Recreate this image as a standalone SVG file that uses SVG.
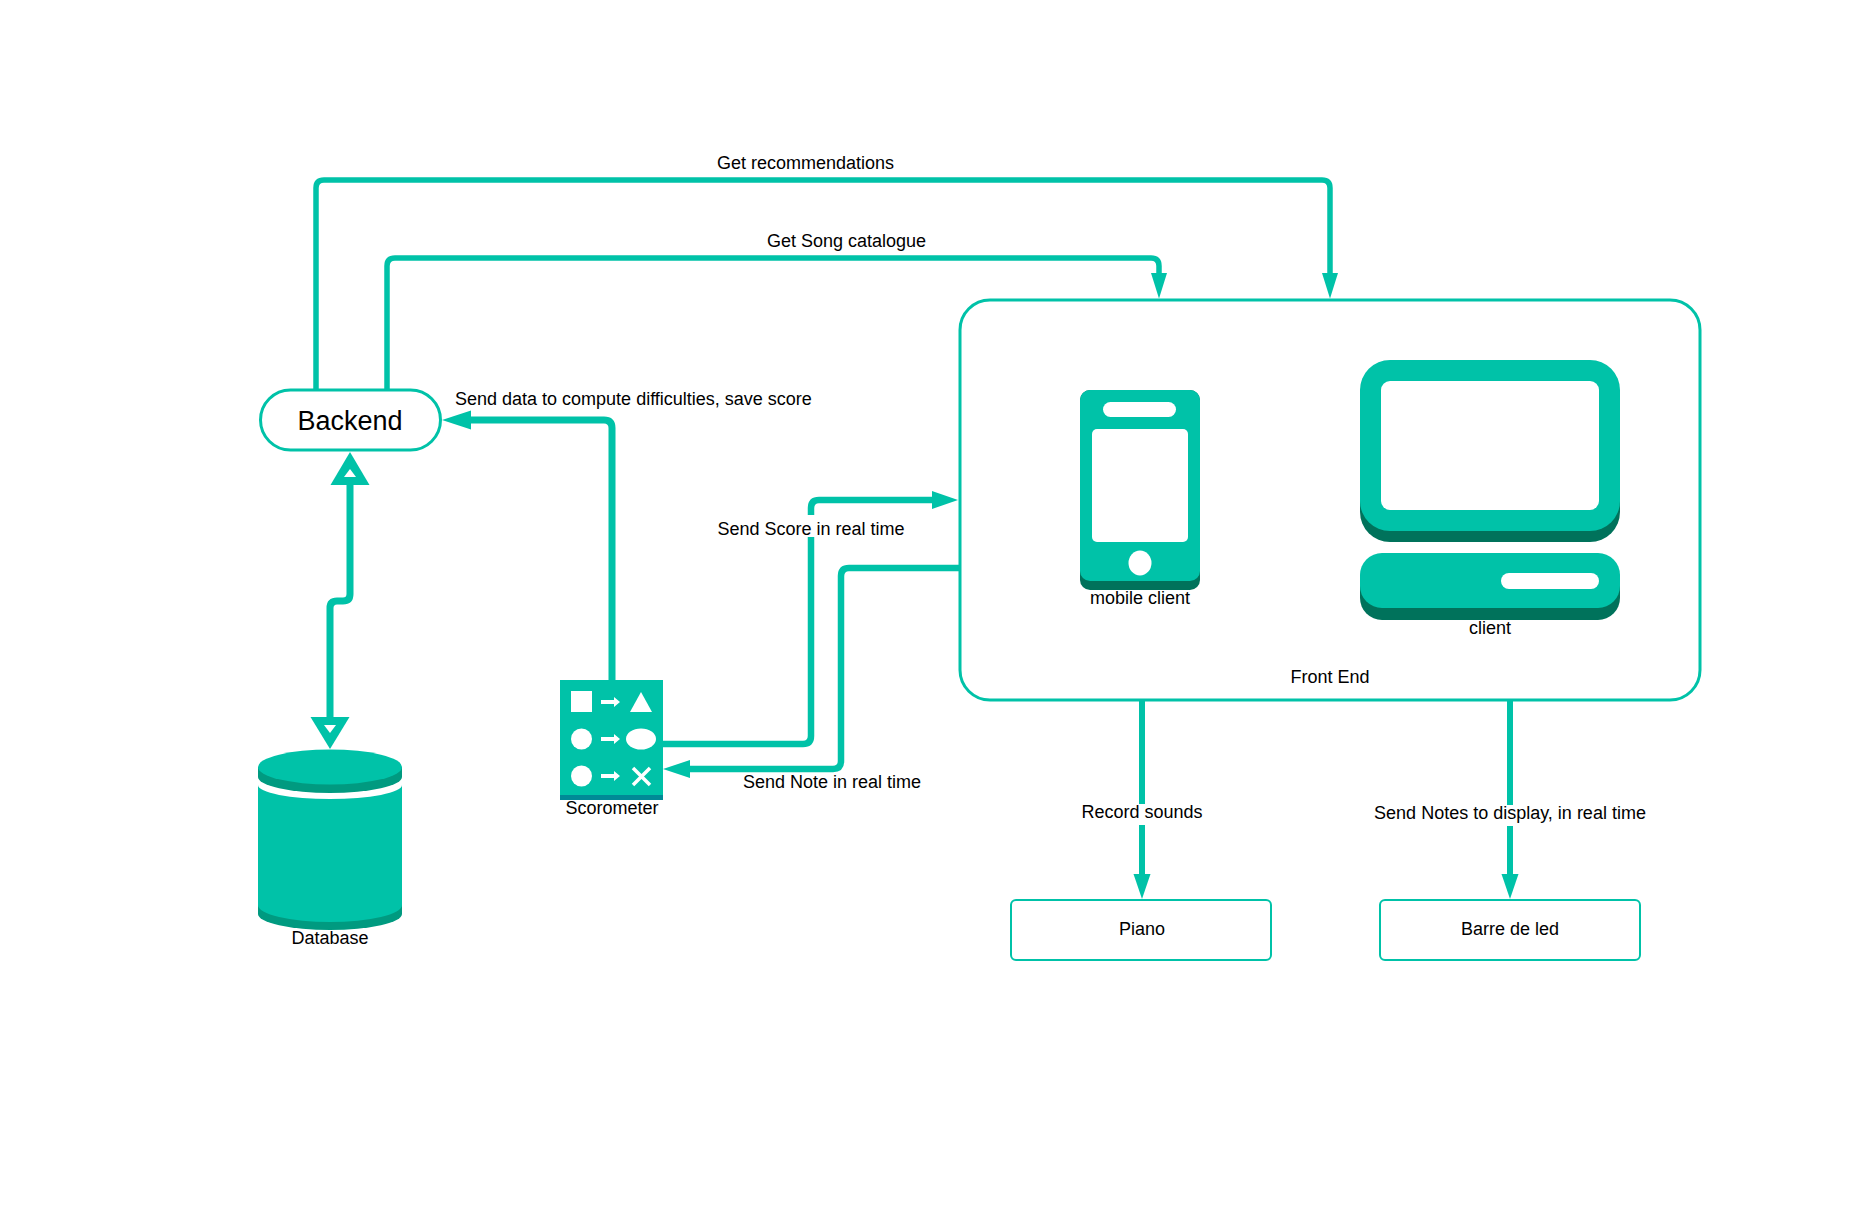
<svg xmlns="http://www.w3.org/2000/svg" width="1859" height="1206" viewBox="0 0 1859 1206">
<style>
text{font-family:"Liberation Sans",Arial,sans-serif;font-size:18px;fill:#000;text-anchor:middle}
.box{fill:#fff;stroke:#00c2a8;stroke-width:3}
.leaf{fill:#fff;stroke:#00c2a8;stroke-width:2}
.t{fill:#00c2a8}
.w{fill:#fff}
.c{fill:none;stroke:#00c2a8;stroke-linejoin:round}
.h{fill:#00c2a8}
.bg{fill:#fff}
</style>
<rect width="1859" height="1206" fill="#fff"/>
<g id="connectors">
<path class="c" stroke-width="5.500" d="M316 390V188Q316 180 324 180H1322Q1330 180 1330 188V275"/>
<polygon class="h" points="1322,273 1338,273 1330,298.500"/>
<path class="c" stroke-width="5.500" d="M387 390V266Q387 258 395 258H1151Q1159 258 1159 266V275"/>
<polygon class="h" points="1151,273 1167,273 1159,298.500"/>
<path class="c" stroke-width="7" d="M350 485V594Q350 601 343 601H337Q330 601 330 608V717"/>
<polygon class="h" points="350,452 369.500,485 330.500,485"/>
<polygon class="w" points="350,469 356,477 344,477"/>
<polygon class="h" points="330,749 310.500,717 349.500,717"/>
<polygon class="w" points="330,733 324,725 336,725"/>
<path class="c" stroke-width="7" d="M612 680V428Q612 420 604 420H470"/>
<polygon class="h" points="442,420 471,410.500 471,429.500"/>
<path class="c" stroke-width="6.500" d="M663 744H803Q811 744 811 736V508Q811 500 819 500H933"/>
<polygon class="h" points="958,500 932,491 932,509"/>
<path class="c" stroke-width="6.500" d="M960 568H849Q841 568 841 576V761Q841 769 833 769H689"/>
<polygon class="h" points="663,769 690,760 690,778"/>
<path class="c" stroke-width="6" d="M1142 700V876"/>
<polygon class="h" points="1133.500,874 1150.500,874 1142,899"/>
<path class="c" stroke-width="6" d="M1510 700V876"/>
<polygon class="h" points="1501.500,874 1518.500,874 1510,899"/>
<rect class="bg" x="715" y="515" width="192" height="22"/>
<rect class="bg" x="1078" y="804" width="128" height="21"/>
<rect class="bg" x="1370" y="805" width="280" height="21"/>
</g>
<g id="backend">
<rect class="box" x="260.500" y="390" width="180" height="60" rx="30"/>
<text x="350" y="429.500" style="font-size:27px">Backend</text>
</g>
<g id="front-end">
<rect class="box" x="960" y="300" width="740" height="400" rx="30" style="fill:none"/>
<text x="1330" y="683">Front End</text>
</g>
<g id="mobile-client">
<rect x="1080" y="390" width="120" height="200" rx="10" fill="#00725b"/>
<rect class="t" x="1080" y="390" width="120" height="191" rx="10"/>
<rect class="w" x="1103" y="402" width="73" height="15" rx="7.500"/>
<rect class="w" x="1092" y="429" width="96" height="113" rx="5"/>
<ellipse class="w" cx="1140" cy="563" rx="11.500" ry="12.500"/>
<text x="1140" y="604">mobile client</text>
</g>
<g id="client">
<rect x="1360" y="400" width="260" height="142" rx="30" fill="#00725b"/>
<rect class="t" x="1360" y="360" width="260" height="171" rx="30"/>
<rect class="w" x="1381" y="381" width="218" height="129" rx="9"/>
<rect x="1360" y="565" width="260" height="55" rx="22" fill="#00725b"/>
<rect class="t" x="1360" y="553" width="260" height="55" rx="22"/>
<rect class="w" x="1501" y="573" width="98" height="16" rx="8"/>
<text x="1490" y="634">client</text>
</g>
<g id="database">
<path fill="#009a80" d="M258 767V777A72 16 0 0 0 402 777V767Z"/>
<path fill="#009a80" d="M258 905V914A72 16 0 0 0 402 914V905Z"/>
<path class="t" d="M258 785A72 14 0 0 0 402 785V905A72 17 0 0 1 258 905Z"/>
<ellipse class="t" cx="330" cy="767" rx="72" ry="17.500"/>
<text x="330" y="944">Database</text>
</g>
<g id="scorometer">
<rect x="560" y="680" width="103" height="120" fill="#008a96"/>
<rect class="t" x="560" y="680" width="103" height="115"/>
<rect class="w" x="571" y="691" width="21" height="21"/>
<polygon class="w" points="641,692 652,712 630,712"/>
<circle class="w" cx="581.500" cy="739" r="10.500"/>
<ellipse class="w" cx="641" cy="739" rx="15" ry="10.500"/>
<circle class="w" cx="581.500" cy="776" r="10.500"/>
<path fill="none" stroke="#fff" stroke-width="3.500" d="M633 768L650 785M650 768L633 785"/>
<g fill="#fff">
<polygon points="601,700 614,700 614,697 620,702 614,707 614,704 601,704"/>
<polygon points="601,737 614,737 614,734 620,739 614,744 614,741 601,741"/>
<polygon points="601,774 614,774 614,771 620,776 614,781 614,778 601,778"/>
</g>
<text x="612" y="814">Scorometer</text>
</g>
<g id="piano">
<rect class="leaf" x="1011" y="900" width="260" height="60" rx="5"/>
<text x="1142" y="935">Piano</text>
</g>
<g id="barre-de-led">
<rect class="leaf" x="1380" y="900" width="260" height="60" rx="5"/>
<text x="1510" y="935">Barre de led</text>
</g>
<g id="labels">
<text x="805.500" y="169">Get recommendations</text>
<text x="846.500" y="247">Get Song catalogue</text>
<text x="455" y="405" style="text-anchor:start">Send data to compute difficulties, save score</text>
<text x="811" y="535">Send Score in real time</text>
<text x="832" y="788">Send Note in real time</text>
<text x="1142" y="817.500">Record sounds</text>
<text x="1510" y="818.500">Send Notes to display, in real time</text>
</g>
</svg>
